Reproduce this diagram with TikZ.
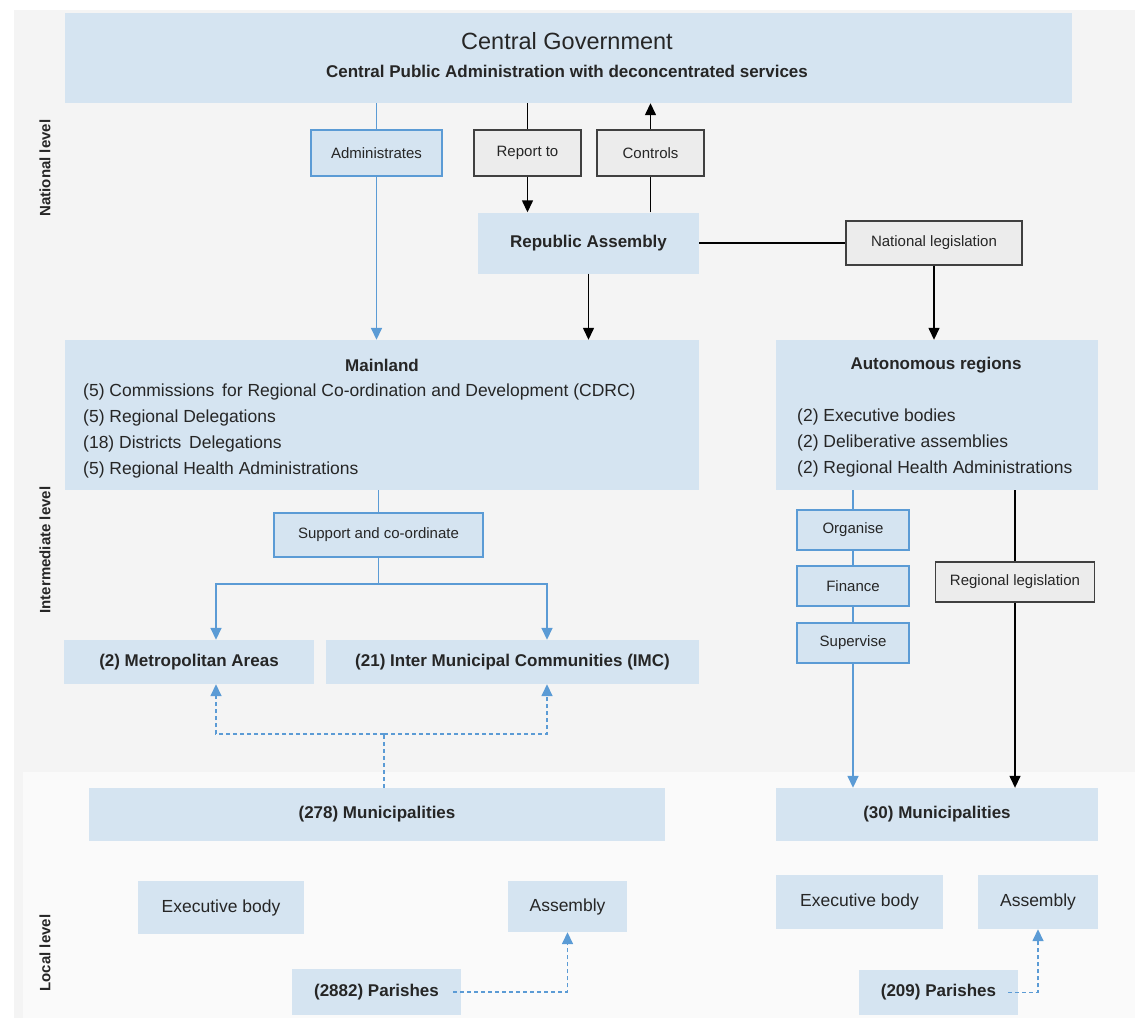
\documentclass[tikz,border=0pt]{standalone}
\usepackage{fontspec}
\setmainfont{Liberation Sans}
\usepackage{tikz}
\usetikzlibrary{arrows.meta}

\definecolor{boxblue}{RGB}{213,228,241}
\definecolor{lineblue}{RGB}{91,155,213}
\definecolor{bggray}{RGB}{244,244,244}
\definecolor{bglocal}{RGB}{250,250,250}
\definecolor{boxgray}{RGB}{236,236,236}
\definecolor{txt}{RGB}{38,38,38}

\tikzset{
  bbox/.style={fill=boxblue, inner sep=0pt, text=txt, font=\fontsize{17.5}{20}\selectfont},
  hbox/.style={bbox, font=\fontsize{17}{20}\selectfont\bfseries},
  lbox/.style={fill=boxblue, draw=lineblue, line width=1.5pt, inner sep=0pt, text=txt, font=\fontsize{15}{18}\selectfont},
  gbox/.style={fill=boxgray, draw=black!75, line width=1.4pt, inner sep=0pt, text=txt, font=\fontsize{15}{18}\selectfont},
  bline/.style={draw=lineblue, line width=1.6pt},
  kline/.style={draw=black, line width=1.4pt},
  bdash/.style={bline, dash pattern=on 4pt off 3pt},
  tip/.style={-{Triangle[length=12pt,width=11pt]}},
  lvl/.style={rotate=90, font=\fontsize{15}{17}\selectfont\bfseries, text=txt},
}

\begin{document}
\begin{tikzpicture}[x=1pt,y=-1pt]
   \useasboundingbox (0,0) rectangle (1135,1022);
   \fill[white] (0,0) rectangle (1135,1022);
   \fill[bggray] (14,10) rectangle (1135,1018);
   \fill[bglocal] (23,772) rectangle (1135,1018);

   \draw (45,168) node[lvl] (natlvl) {National level};
   \draw (45,550) node[lvl] (intlvl) {Intermediate level};
   \draw (45,953) node[lvl] (loclvl) {Local level};

   \draw (568.5,58) node[bbox, minimum width=1007pt, minimum height=90pt] (cg) {};
     \draw (567,41) node[bbox, fill=none, font=\fontsize{23.5}{26}\selectfont] (cgtitle) {Central Government};
     \draw (567,71) node[hbox, fill=none] (cgsub) {Central Public Administration with deconcentrated services};

     \draw (376.5,153) node[lbox, minimum width=131pt, minimum height=46pt] (adm) {Administrates};
     \draw (527.5,153) node[gbox, minimum width=107pt, minimum height=46pt] (rep) {Report to};
     \draw (650.5,153) node[gbox, minimum width=107pt, minimum height=46pt] (ctl) {Controls};
     \draw (588.5,243) node[hbox, minimum width=221pt, minimum height=61pt] (ra) {Republic Assembly};
     \draw (934,243) node[gbox, minimum width=176pt, minimum height=44pt] (nl) {National legislation};

   \draw (382,415) node[bbox, minimum width=634pt, minimum height=150pt] (ml) {};
     \draw (382,365) node[hbox] (mltitle) {Mainland};
     \draw (83,431) node[bbox, fill=none, anchor=west, align=left, font=\fontsize{17.5}{26}\selectfont] (mllist)
       {(5) Commissions\, for Regional Co-ordination and Development (CDRC)\\(5) Regional Delegations\\(18) Districts\, Delegations\\(5) Regional Health Administrations};
   \draw (937,415) node[bbox, minimum width=322pt, minimum height=150pt] (ar) {};
     \draw (936,365) node[hbox] (artitle) {Autonomous regions};
     \draw (797,443) node[bbox, fill=none, anchor=west, align=left, font=\fontsize{17.5}{26}\selectfont] (arlist)
       {(2) Executive bodies\\(2) Deliberative assemblies\\(2) Regional Health Administrations};

     \draw (378.5,535) node[lbox, minimum width=209pt, minimum height=44pt] (sc) {Support and co-ordinate};
     \draw (189,662) node[hbox, minimum width=250pt, minimum height=44pt] (ma) {(2) Metropolitan Areas};
     \draw (512.5,662) node[hbox, minimum width=373pt, minimum height=44pt] (imc) {(21) Inter Municipal Communities (IMC)};

     \draw (853,530) node[lbox, minimum width=112pt, minimum height=40pt] (org) {Organise};
     \draw (853,586) node[lbox, minimum width=112pt, minimum height=40pt] (fin) {Finance};
     \draw (853,643) node[lbox, minimum width=112pt, minimum height=40pt] (sup) {Supervise};
     \draw (1015,582) node[gbox, minimum width=159pt, minimum height=40pt] (rl) {Regional legislation};

   \draw (377,814.5) node[hbox, minimum width=576pt, minimum height=53pt] (mun1) {(278) Municipalities};
   \draw (937,814.5) node[hbox, minimum width=322pt, minimum height=53pt] (mun2) {(30) Municipalities};

     \draw (221,907.5) node[bbox, minimum width=166pt, minimum height=53pt] (ex1) {Executive body};
     \draw (567.5,906.5) node[bbox, minimum width=119pt, minimum height=51pt] (as1) {Assembly};
     \draw (859.5,902) node[bbox, minimum width=167pt, minimum height=54pt] (ex2) {Executive body};
     \draw (1038,902) node[bbox, minimum width=120pt, minimum height=54pt] (as2) {Assembly};
     \draw (376.5,992) node[hbox, minimum width=169pt, minimum height=46pt] (par1) {(2882) Parishes};
     \draw (938.5,992.5) node[hbox, minimum width=159pt, minimum height=45pt] (par2) {(209) Parishes};

   \coordinate (split) at (378.5,584);
   \coordinate (dsplit) at (384,734);

       \draw[bline] (adm.north |- cg.south) -- (adm.north);
       \draw[bline, tip] (adm.south) -- (adm.south |- ml.north);
       \draw[kline] (rep.north |- cg.south) -- (rep.north);
       \draw[kline, tip] (rep.south) -- (rep.south |- ra.north);
       \draw[kline] (ctl.south |- ra.north) -- (ctl.south);
       \draw[kline, tip] (ctl.north) -- (ctl.north |- cg.south);
       \draw[kline] (ra.east) -- (nl.west);
       \draw[kline, tip] (nl.south) -- (nl.south |- ar.north);
       \draw[kline, tip] (ra.south) -- (ra.south |- ml.north);

       \draw[bline] (sc.north |- ml.south) -- (sc.north);
       \draw[bline] (sc.south) -- (split);
       \draw[bline, tip] (split) -| ([xshift=27pt]ma.north);
       \draw[bline, tip] (split) -| ([xshift=34.5pt]imc.north);

       \draw[bline] (org.north |- ar.south) -- (org.north);
       \draw[bline] (org.south) -- (fin.north);
       \draw[bline] (fin.south) -- (sup.north);
       \draw[bline, tip] (sup.south) -- (sup.south |- mun2.north);
       \draw[kline] (rl.north |- ar.south) -- (rl.north);
       \draw[kline, tip] (rl.south) -- (rl.south |- mun2.north);

       \draw[bdash] (dsplit |- mun1.north) -- (dsplit);
       \draw[bdash, tip] (dsplit) -| ([xshift=27pt]ma.south);
       \draw[bdash, tip] (dsplit) -| ([xshift=34.5pt]imc.south);
       \draw[bdash, tip] ([xshift=-8pt]par1.east) -| (as1.south);
       \draw[bdash, tip] ([xshift=-10pt]par2.east) -| (as2.south);
\end{tikzpicture}
\end{document}
